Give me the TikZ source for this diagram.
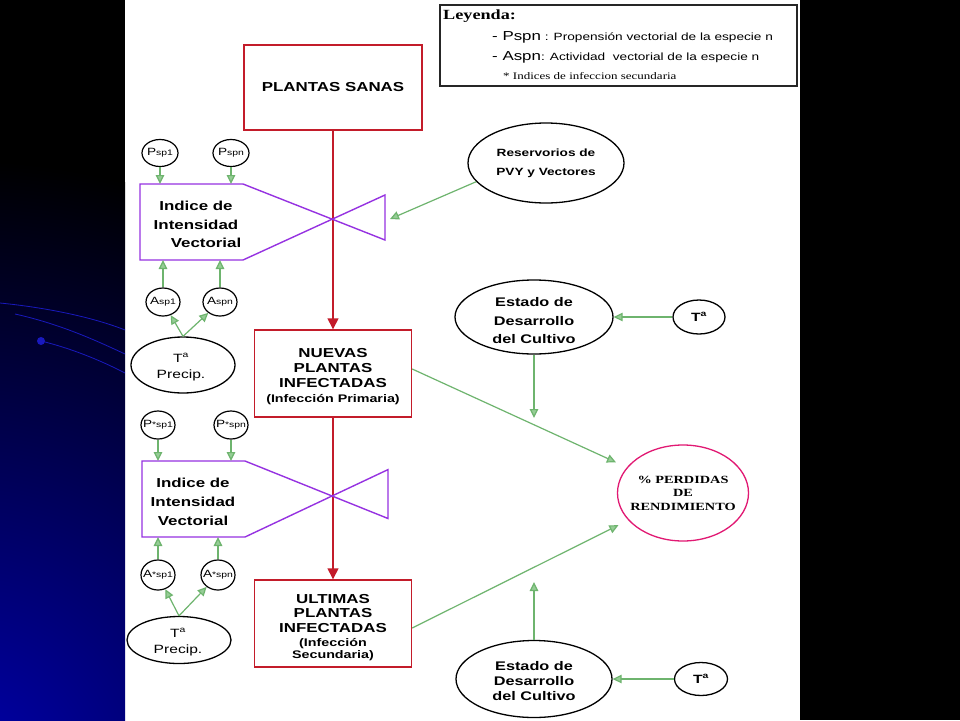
\documentclass[tikz,border=0pt]{standalone}
\usepackage{fontspec}
\setmainfont{Liberation Sans}[FakeStretch=1.3]
\newfontfamily\serifw{Liberation Serif}[FakeStretch=1.3]
\usetikzlibrary{shapes.geometric,arrows.meta}
\definecolor{redbox}{RGB}{195,28,42}
\definecolor{vpurple}{RGB}{150,50,225}
\definecolor{gline}{RGB}{110,180,110}
\definecolor{glight}{RGB}{150,205,150}
\definecolor{pinkc}{RGB}{225,25,115}
\definecolor{slideblue}{RGB}{0,0,175}
\definecolor{decoblue}{RGB}{25,25,190}
\tikzset{
 rbox/.style={draw=redbox, line width=1.4pt, rectangle, inner sep=0pt, align=center, font=\bfseries\fontsize{13}{15}\selectfont},
 ell/.style={draw, ellipse, line width=1.3pt, inner sep=0pt},
 lbl/.style={inner sep=0pt, align=center},
 clbl/.style={inner sep=0pt, font=\fontsize{10.5}{12}\selectfont},
 garrow/.style={draw=gline, line width=1.2pt, -{Triangle[length=9pt,width=8.5pt,fill=glight]}},
 rarrow/.style={draw=redbox, line width=1.4pt, -{Triangle[length=11pt,width=11pt]}},
 vshape/.style={draw=vpurple, line width=1.4pt, line join=miter},
}
\newcommand{\smt}[1]{{\fontsize{8}{8}\selectfont #1}}
\begin{document}
\begin{tikzpicture}[x=1pt,y=-1pt]
\useasboundingbox (0,0) rectangle (960,720);
\fill[white] (0,0) rectangle (960,720);
\fill[black] (0,0) rectangle (125,720);
\fill[black] (800,0) rectangle (960,720);
\begin{scope}
\clip (0,0) rectangle (125,720);
\shade[inner color=slideblue, outer color=black] (-40,780) circle (620);
\draw[decoblue, line width=0.8pt] (0,303) .. controls (50,308) and (95,318) .. (125,330);
\draw[decoblue, line width=0.8pt] (15,314) .. controls (60,324) and (95,340) .. (125,354);
\draw[decoblue, line width=0.8pt] (41,341) .. controls (70,348) and (100,360) .. (125,373);
\fill[decoblue] (41,341) circle (4);
\end{scope}

% legend
\node[draw=black!85, line width=1.2pt, minimum width=357pt, minimum height=81pt, inner sep=0pt] (leg) at (618.5,45.5) {};
\node[anchor=base west, inner sep=0pt, font=\serifw\bfseries\fontsize{14}{16}\selectfont] (legt) at (443,19.5) {Leyenda:};
\node[anchor=base west, inner sep=0pt, font=\fontsize{10.5}{12}\selectfont] (leg1) at (492,40) {{\fontsize{13}{14}\selectfont - Pspn} : Propensión vectorial de la especie n};
\node[anchor=base west, inner sep=0pt, font=\fontsize{10.5}{12}\selectfont] (leg2) at (492,60) {{\fontsize{13}{14}\selectfont - Aspn}: Actividad\ \ vectorial de la especie n};
\node[anchor=base west, inner sep=0pt, font=\serifw\fontsize{10}{12}\selectfont] (leg3) at (503,79) {* Indices de infeccion secundaria};

% main boxes
\node[rbox, minimum width=178pt, minimum height=85pt] (ps) at (333,87.5) {PLANTAS SANAS};
\node[rbox, minimum width=157pt, minimum height=87pt] (nu) at (333,373.5) {};
\node[lbl, font=\bfseries\fontsize{13}{15}\selectfont] (nut) at (333,376.5) {NUEVAS\\PLANTAS\\INFECTADAS\\{\fontsize{11}{13}\selectfont (Infección Primaria)}};
\node[rbox, minimum width=157pt, minimum height=87pt] (ul) at (333,623.5) {};
\node[lbl, font=\bfseries\fontsize{13}{14.5}\selectfont] (ult) at (333,627.5) {ULTIMAS\\PLANTAS\\INFECTADAS\\{\fontsize{11}{12}\selectfont (Infección}\\[-3pt]{\fontsize{11}{12}\selectfont Secundaria)}};
\draw[rarrow] (ps) -- (nu);
\draw[rarrow] (nu) -- (ul);

% valve 1
\draw[vshape] (140,184) -- (243,184) -- (385,240) -- (385,195) -- (243,260) -- (140,260) -- cycle;
\node[lbl, font=\bfseries\fontsize{13}{18.5}\selectfont] (iv1) at (196,224.5) {Indice de\\Intensidad\\\hspace*{20pt}Vectorial};
\coordinate (b1top) at (0,184);
\coordinate (b1bot) at (0,260);

% valve 2
\draw[vshape] (142,461) -- (245,461) -- (388,518.5) -- (388,469.6) -- (245,537) -- (142,537) -- cycle;
\node[lbl, font=\bfseries\fontsize{13}{19}\selectfont] (iv2) at (193,501.5) {Indice de\\Intensidad\\Vectorial};
\coordinate (b2top) at (0,461);
\coordinate (b2bot) at (0,537);

% small circles, group 1
\node[ell, line width=1.2pt, minimum width=36pt, minimum height=27pt] (psp1) at (160,153) {};
\node[clbl] (psp1t) at (psp1) {P\smt{sp1}};
\node[ell, line width=1.2pt, minimum width=36pt, minimum height=27pt] (pspn) at (231,153) {};
\node[clbl] (pspnt) at (pspn) {P\smt{spn}};
\node[ell, line width=1.2pt, minimum width=34pt, minimum height=28pt] (asp1) at (163,302) {};
\node[clbl] (asp1t) at (asp1) {A\smt{sp1}};
\node[ell, line width=1.2pt, minimum width=34pt, minimum height=28pt] (aspn) at (220,302) {};
\node[clbl] (aspnt) at (aspn) {A\smt{spn}};
\node[ell, minimum width=104pt, minimum height=56pt] (tp1) at (183,365) {};
\node[lbl, font=\fontsize{12}{16}\selectfont] (tp1t) at (181,367) {T\textsuperscript{a}\\Precip.};

\draw[garrow] (psp1) -- (psp1 |- b1top);
\draw[garrow] (pspn) -- (pspn |- b1top);
\draw[garrow] (asp1) -- (asp1 |- b1bot);
\draw[garrow] (aspn) -- (aspn |- b1bot);
\draw[garrow] (tp1.north) -- (asp1);
\draw[garrow] (tp1.north) -- (aspn);

% small circles, group 2
\node[ell, line width=1.2pt, minimum width=34pt, minimum height=28pt] (psx1) at (158,425) {};
\node[clbl] (psx1t) at (psx1) {P\smt{*sp1}};
\node[ell, line width=1.2pt, minimum width=34pt, minimum height=28pt] (psxn) at (231,425) {};
\node[clbl] (psxnt) at (psxn) {P\smt{*spn}};
\node[ell, line width=1.2pt, minimum width=34pt, minimum height=30pt] (asx1) at (158,575) {};
\node[clbl] (asx1t) at (asx1) {A\smt{*sp1}};
\node[ell, line width=1.2pt, minimum width=34pt, minimum height=30pt] (asxn) at (218,575) {};
\node[clbl] (asxnt) at (asxn) {A\smt{*spn}};
\node[ell, minimum width=104pt, minimum height=47pt] (tp2) at (179,640) {};
\node[lbl, font=\fontsize{12}{16}\selectfont] (tp2t) at (178,642) {T\textsuperscript{a}\\Precip.};

\draw[garrow] (psx1) -- (psx1 |- b2top);
\draw[garrow] (psxn) -- (psxn |- b2top);
\draw[garrow] (asx1) -- (asx1 |- b2bot);
\draw[garrow] (asxn) -- (asxn |- b2bot);
\draw[garrow] (tp2.north) -- (asx1);
\draw[garrow] (tp2.north) -- (asxn);

% reservorios
\node[ell, minimum width=156pt, minimum height=80pt] (res) at (546,163) {};
\node[lbl, font=\bfseries\fontsize{10.5}{19}\selectfont] (rest) at (res) {Reservorios de\\PVY y Vectores};
\coordinate (vin1) at (390,219);
\draw[garrow] (res.195) -- (vin1);

% estado 1
\node[ell, minimum width=158pt, minimum height=74pt] (est1) at (534,317) {};
\node[lbl, font=\bfseries\fontsize{12.5}{18.5}\selectfont] (est1t) at (534,321) {Estado de\\Desarrollo\\del Cultivo};
\node[ell, minimum width=52pt, minimum height=34pt] (ta1) at (699,317) {};
\node[lbl, font=\bfseries\fontsize{12}{14}\selectfont] (ta1t) at (ta1) {T\textsuperscript{a}};
\draw[garrow] (ta1) -- (est1);
\coordinate (c1) at (534,418);
\draw[garrow] (est1) -- (c1);

% estado 2
\node[ell, minimum width=156pt, minimum height=77pt] (est2) at (534,679) {};
\node[lbl, font=\bfseries\fontsize{12.5}{15}\selectfont] (est2t) at (534,681) {Estado de\\Desarrollo\\del Cultivo};
\node[ell, minimum width=53pt, minimum height=33pt] (ta2) at (701,679) {};
\node[lbl, font=\bfseries\fontsize{12}{14}\selectfont] (ta2t) at (ta2) {T\textsuperscript{a}};
\draw[garrow] (ta2) -- (est2);
\coordinate (c2) at (534,582);
\draw[garrow] (est2) -- (c2);

% perdidas
\node[ell, draw=pinkc, minimum width=131pt, minimum height=96pt] (perd) at (683,493) {};
\node[lbl, font=\serifw\bfseries\fontsize{11}{13.5}\selectfont] (perdt) at (perd) {\% PERDIDAS\\DE\\RENDIMIENTO};
\draw[garrow, shorten >=12pt] ([yshift=4.5pt]nu.east) -- (perd);
\draw[garrow, shorten >=11pt] ([yshift=-4.5pt]ul.east) -- (perd);
\end{tikzpicture}
\end{document}
